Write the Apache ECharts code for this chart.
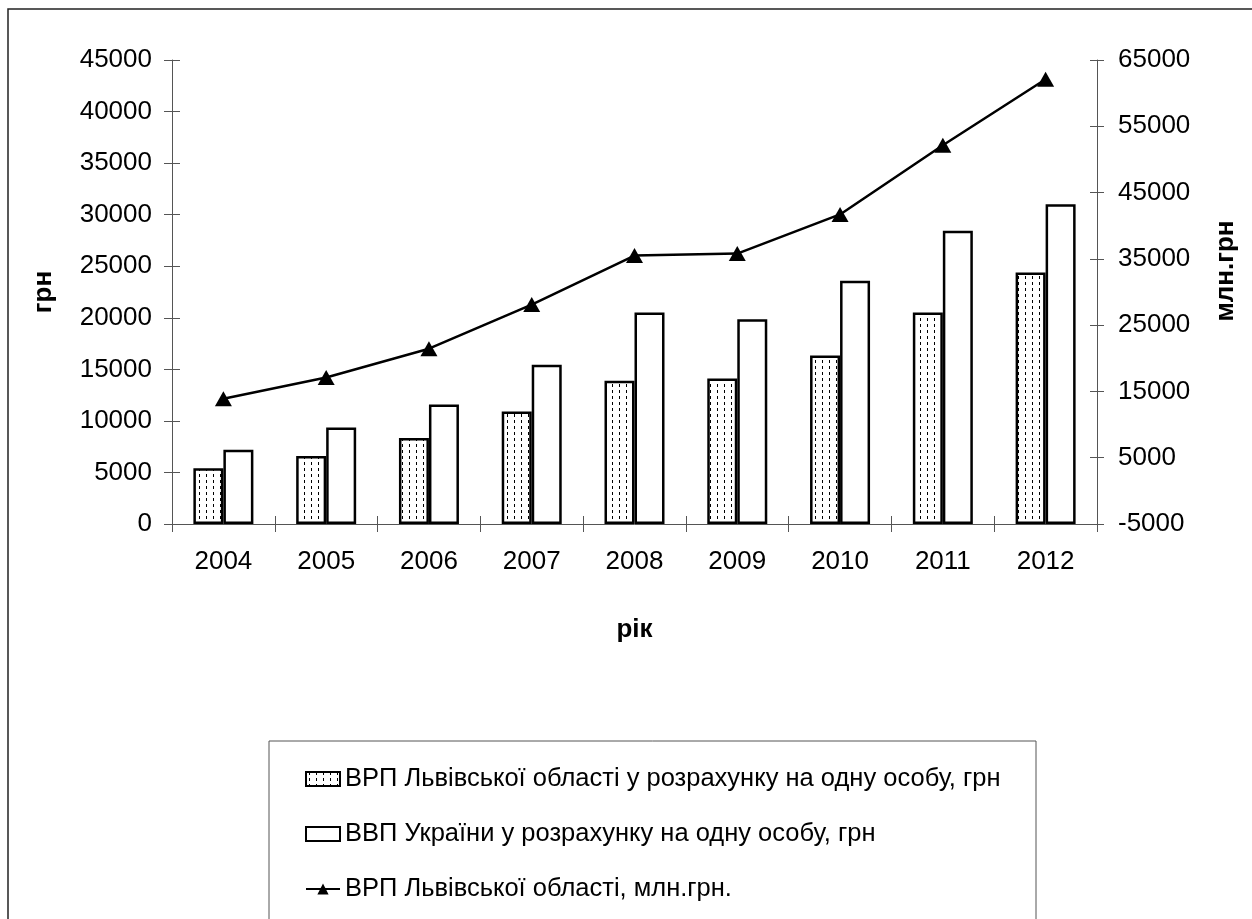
<!DOCTYPE html>
<html><head><meta charset="utf-8">
<script src="https://cdn.jsdelivr.net/npm/echarts@6/dist/echarts.min.js"></script>
<style>html,body{margin:0;padding:0;background:#fff}#c{width:1252px;height:919px}</style>
</head><body><div id="c"></div>
<script>
const years = ['2004','2005','2006','2007','2008','2009','2010','2011','2012'];
const lvivPerCapita = [5400, 6600, 8350, 10900, 13900, 14100, 16350, 20500, 24400];
const ukrPerCapita = [7200, 9350, 11600, 15450, 20500, 19850, 23600, 28450, 31000];
const lvivGRP = [13900, 17100, 21450, 28100, 35500, 35800, 41700, 52150, 62100];
const leftTicks = {min: 0, max: 45000, interval: 5000};
const rightTicks = {min: -5000, max: 65000, interval: 10000};
const names = ['ВРП Львівської області у розрахунку на одну особу, грн',
  'ВВП України у розрахунку на одну особу, грн',
  'ВРП Львівської області, млн.грн.'];

// dashed pattern
const pc = document.createElement('canvas');
pc.width = 7; pc.height = 6;
const g = pc.getContext('2d');
g.fillStyle = '#fff'; g.fillRect(0,0,7,6);
g.fillStyle = '#000'; g.fillRect(3,0,1,3);
const pattern = {image: pc, repeat: 'repeat'};

const font = 'Liberation Sans, Arial, sans-serif';
const chart = echarts.init(document.getElementById('c'), null, {renderer: 'canvas'});
const axisCol = '#555';
const axisLine = {show: true, onZero: false, lineStyle: {color: axisCol, width: 1}};
const fmt = v => String(v);
const txt = {color: '#000', fontSize: 26, fontFamily: font, formatter: fmt};
const nameStyle = {color: '#000', fontSize: 26, fontWeight: 'bold', fontFamily: font};
chart.setOption({
  animation: false,
  backgroundColor: '#fff',
  grid: {left: 172, right: 155, top: 60, bottom: 395},
  graphic: [
    {type: 'rect', shape: {x: 8, y: 9, width: 1300, height: 1000}, style: {fill: 'none', stroke: '#222', lineWidth: 1.5}, z: -10},
    {type: 'rect', shape: {x: 269, y: 741, width: 767, height: 300}, style: {fill: 'none', stroke: '#555', lineWidth: 1}, z: -10}
  ],
  legend: {
    orient: 'vertical', left: 305, top: 766, padding: 0, itemGap: 29, itemWidth: 34, itemHeight: 14,
    textStyle: {color: '#000', fontSize: 25.5, fontFamily: font},
    data: [
      {name: names[0], icon: 'rect'},
      {name: names[1], icon: 'rect'},
      {name: names[2]}
    ]
  },
  xAxis: [{
    type: 'category', data: years, boundaryGap: true,
    axisLine: axisLine,
    axisTick: {show: true, length: 8, lineStyle: {color: axisCol}},
    axisLabel: {color: '#000', fontSize: 26, fontFamily: font, margin: 25},
    name: 'рік', nameLocation: 'middle', nameGap: 93,
    nameTextStyle: nameStyle
  }, {
    type: 'category', data: years, position: 'bottom', boundaryGap: true,
    axisLine: {show: false, onZero: false}, axisLabel: {show: false},
    axisTick: {show: true, inside: true, length: 8, lineStyle: {color: axisCol}}
  }],
  yAxis: [{
    type: 'value', position: 'left', min: leftTicks.min, max: leftTicks.max, interval: leftTicks.interval,
    axisLine: axisLine, splitLine: {show: false},
    axisTick: {show: true, length: 8, lineStyle: {color: axisCol}},
    axisLabel: Object.assign({margin: 20}, txt),
    name: 'грн', nameLocation: 'middle', nameGap: 115, nameRotate: 90,
    nameTextStyle: nameStyle
  }, {
    type: 'value', position: 'right', min: rightTicks.min, max: rightTicks.max, interval: rightTicks.interval,
    axisLine: axisLine, splitLine: {show: false},
    axisTick: {show: true, length: 7, lineStyle: {color: axisCol}},
    axisLabel: Object.assign({margin: 21}, txt),
    name: 'млн.грн', nameLocation: 'middle', nameGap: 116, nameRotate: 90,
    nameTextStyle: Object.assign({padding: [0, 0, 0, 42]}, nameStyle)
  }, {
    type: 'value', position: 'left', min: leftTicks.min, max: leftTicks.max, interval: leftTicks.interval,
    axisLine: {show: false}, splitLine: {show: false}, axisLabel: {show: false},
    axisTick: {show: true, inside: true, length: 8, lineStyle: {color: axisCol}}
  }, {
    type: 'value', position: 'right', min: rightTicks.min, max: rightTicks.max, interval: rightTicks.interval,
    axisLine: {show: false}, splitLine: {show: false}, axisLabel: {show: false},
    axisTick: {show: true, inside: true, length: 7, lineStyle: {color: axisCol}}
  }],
  series: [{
    name: names[0], type: 'bar', data: lvivPerCapita, xAxisIndex: 0, yAxisIndex: 0,
    barWidth: 30, barGap: '0%',
    itemStyle: {color: pattern, borderColor: '#000', borderWidth: 2.5}
  }, {
    name: names[1], type: 'bar', data: ukrPerCapita, xAxisIndex: 0, yAxisIndex: 0,
    barWidth: 30, barGap: '0%',
    itemStyle: {color: '#fff', borderColor: '#000', borderWidth: 2.5}
  }, {
    name: names[2], type: 'line', data: lvivGRP, xAxisIndex: 0, yAxisIndex: 1,
    symbol: 'triangle', symbolSize: [17, 15],
    lineStyle: {color: '#000', width: 2.5},
    itemStyle: {color: '#000'}, z: 5
  }]
});
</script></body></html>
